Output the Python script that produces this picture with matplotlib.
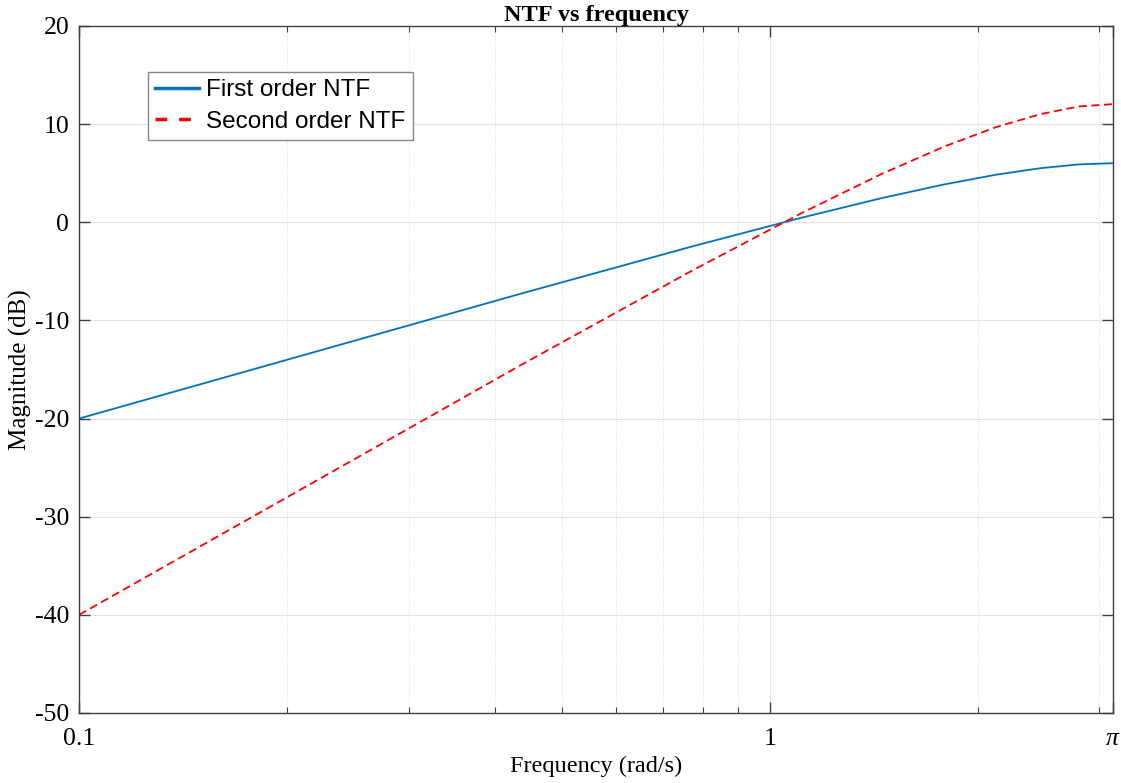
import numpy as np
import matplotlib
matplotlib.use("Agg")
import matplotlib.pyplot as plt
from matplotlib.ticker import FixedLocator, NullFormatter

plt.rcParams['axes.unicode_minus'] = False
plt.rcParams['mathtext.fontset'] = 'custom'
plt.rcParams['mathtext.rm'] = 'Liberation Serif'
plt.rcParams['mathtext.it'] = 'Liberation Serif:italic'

# sample points (10 points, linear in frequency)
freq = [0.1, 0.438, 0.776, 1.114, 1.452, 1.790, 2.128, 2.466, 2.804, np.pi]
ntf1_db = [-20.0, -7.24, -2.42, 0.48, 2.46, 3.86, 4.85, 5.51, 5.90, 6.02]
ntf2_db = [-40.0, -14.48, -4.84, 0.96, 4.92, 7.72, 9.70, 11.02, 11.80, 12.04]

xticks = [0.1, 1, np.pi]
xtick_labels = ['0.1', '1', r'$\pi$']
minor_x = [0.2, 0.3, 0.4, 0.5, 0.6, 0.7, 0.8, 0.9, 2, 3]
yticks = [-50, -40, -30, -20, -10, 0, 10, 20]

serif = 'Liberation Serif'
sans = 'Liberation Sans'

fig = plt.figure(figsize=(11.21, 7.83), dpi=100)
ax = fig.add_axes([0.0705, 0.0894, 0.9224, 0.8774])

ax.semilogx(freq, ntf1_db, color='#0072BD', lw=1.3, label='First order NTF')
ax.semilogx(freq, ntf2_db, color='#FF0000', lw=1.3, ls=(0, (4.5, 2.5)), label='Second order NTF')

ax.set_xlim(0.1, np.pi)
ax.set_ylim(-50, 20)

ax.xaxis.set_major_locator(FixedLocator(xticks))
ax.set_xticklabels(xtick_labels)
ax.xaxis.set_minor_locator(FixedLocator(minor_x))
ax.xaxis.set_minor_formatter(NullFormatter())
ax.set_yticks(yticks)

for lab in ax.get_xticklabels() + ax.get_yticklabels():
    lab.set_fontfamily(serif)
    lab.set_fontsize(18.5)

ax.tick_params(which='both', direction='in', top=True, right=True, color='#404040')
ax.tick_params(which='major', length=8, width=1)
ax.tick_params(axis='x', which='major', pad=11)
ax.tick_params(axis='y', which='major', pad=7)
ax.tick_params(which='minor', length=4, width=0.8)

ax.grid(True, which='major', color='#e3e3e3', lw=0.8)
ax.grid(True, which='minor', axis='x', color='#d5d5d5', lw=0.6, ls=':')
ax.set_axisbelow(True)

for s in ax.spines.values():
    s.set_color('#404040')
    s.set_linewidth(1)

ax.set_title('NTF vs frequency', fontfamily=serif, fontsize=17.5, fontweight='bold', pad=2)
ax.set_xlabel('Frequency (rad/s)', fontfamily=serif, fontsize=17.5, labelpad=4)
ax.set_ylabel('Magnitude (dB)', fontfamily=serif, fontsize=18, labelpad=2)

leg = ax.legend(loc='upper left', bbox_to_anchor=(0.0665, 0.933), prop={'family': sans, 'size': 17.5},
                fancybox=False, edgecolor='#888888', framealpha=1, borderpad=0.3,
                handlelength=1.8, handletextpad=0.3, labelspacing=0.38, borderaxespad=0)
leg.get_frame().set_linewidth(1)
for h in leg.get_lines():
    h.set_linewidth(2.5)
leg.get_lines()[1].set_linestyle((0, (3.4, 3.4)))

fig.savefig('out.png', dpi=100)
